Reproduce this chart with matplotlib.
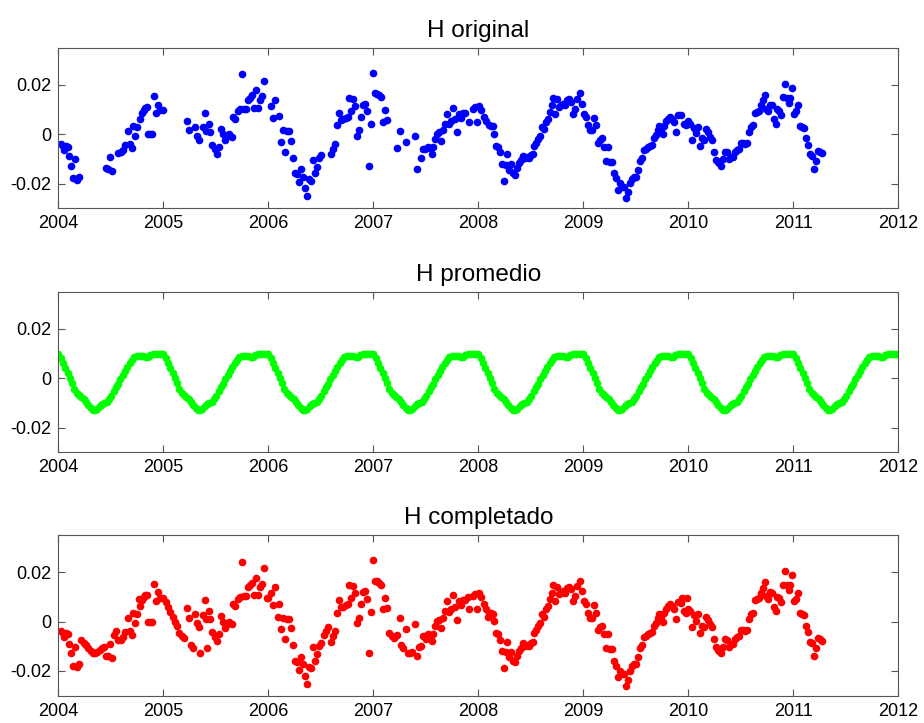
import numpy as np
import matplotlib
matplotlib.use('Agg')
import matplotlib.pyplot as plt

plt.rcParams['font.family'] = ['Liberation Sans', 'DejaVu Sans']

# H original (fecha en anos decimales, valor)
t_orig = [2004.022, 2004.042, 2004.054, 2004.074, 2004.093, 2004.106, 2004.122, 2004.144,
          2004.163, 2004.176, 2004.196,
          2004.452, 2004.471, 2004.490, 2004.510, 2004.567, 2004.600, 2004.619, 2004.638,
          2004.663, 2004.683, 2004.702, 2004.715, 2004.734, 2004.753, 2004.779, 2004.798,
          2004.817, 2004.830, 2004.843, 2004.856, 2004.875, 2004.894, 2004.913, 2004.933,
          2004.952, 2004.971, 2004.997,
          2005.221, 2005.240, 2005.298, 2005.317, 2005.336, 2005.375, 2005.394, 2005.405,
          2005.433, 2005.446, 2005.465, 2005.490, 2005.510, 2005.529, 2005.548, 2005.567,
          2005.587, 2005.606, 2005.625, 2005.651, 2005.663, 2005.683, 2005.708, 2005.728,
          2005.747, 2005.766, 2005.785, 2005.804, 2005.824, 2005.843, 2005.862, 2005.881,
          2005.901, 2005.920, 2005.939, 2005.958,
          2006.025, 2006.044, 2006.063, 2006.104, 2006.120, 2006.139, 2006.158, 2006.177,
          2006.196, 2006.215, 2006.234, 2006.253, 2006.272, 2006.291, 2006.310, 2006.329,
          2006.348, 2006.367, 2006.385, 2006.404, 2006.423, 2006.442, 2006.461, 2006.480,
          2006.506, 2006.594, 2006.613, 2006.632, 2006.651, 2006.676, 2006.695, 2006.714,
          2006.739, 2006.758, 2006.771, 2006.790, 2006.809, 2006.828, 2006.847, 2006.866,
          2006.885, 2006.904, 2006.923, 2006.942, 2006.957, 2006.979, 2006.998, 2007.017,
          2007.036, 2007.055, 2007.074, 2007.093, 2007.112, 2007.131,
          2007.226, 2007.251, 2007.308, 2007.397, 2007.416, 2007.453, 2007.472, 2007.491,
          2007.523, 2007.542, 2007.555, 2007.573, 2007.592, 2007.611, 2007.630, 2007.649,
          2007.662, 2007.680, 2007.706, 2007.718, 2007.744, 2007.763, 2007.782, 2007.801,
          2007.820, 2007.838, 2007.857, 2007.876, 2007.914, 2007.953, 2007.972, 2007.991,
          2008.010, 2008.029, 2008.051, 2008.070, 2008.101, 2008.120, 2008.139, 2008.146,
          2008.165, 2008.184, 2008.203, 2008.222, 2008.241, 2008.259, 2008.278, 2008.297,
          2008.316, 2008.335, 2008.354, 2008.373, 2008.392, 2008.411, 2008.430, 2008.449,
          2008.468, 2008.487, 2008.506, 2008.519, 2008.532, 2008.551, 2008.570, 2008.589,
          2008.608, 2008.627, 2008.646, 2008.665, 2008.684, 2008.703, 2008.715, 2008.734,
          2008.753, 2008.772, 2008.791, 2008.810, 2008.829, 2008.848, 2008.867, 2008.886,
          2008.905, 2008.924, 2008.943, 2008.968, 2008.987, 2009.006, 2009.025, 2009.044,
          2009.063, 2009.082, 2009.101, 2009.120, 2009.139, 2009.158, 2009.177, 2009.196,
          2009.215, 2009.234, 2009.253, 2009.272, 2009.291, 2009.310, 2009.329, 2009.348,
          2009.367, 2009.386, 2009.405, 2009.424, 2009.443, 2009.462, 2009.481, 2009.500,
          2009.519, 2009.538, 2009.557, 2009.576, 2009.601, 2009.620, 2009.639, 2009.658,
          2009.671, 2009.690, 2009.709, 2009.722, 2009.741, 2009.759, 2009.772, 2009.791,
          2009.810, 2009.829, 2009.848, 2009.867, 2009.886, 2009.905, 2009.930, 2009.956,
          2009.975, 2010.000, 2010.019, 2010.032, 2010.051, 2010.070, 2010.089, 2010.108,
          2010.127, 2010.146, 2010.165, 2010.184, 2010.203, 2010.222, 2010.241, 2010.259,
          2010.278, 2010.297, 2010.316, 2010.335, 2010.354, 2010.373, 2010.392, 2010.411,
          2010.430, 2010.449, 2010.468, 2010.487, 2010.506, 2010.525, 2010.544, 2010.563,
          2010.582, 2010.601, 2010.620, 2010.633, 2010.652, 2010.671, 2010.690, 2010.709,
          2010.728, 2010.741, 2010.759, 2010.778, 2010.797, 2010.816, 2010.835, 2010.848,
          2010.867, 2010.886, 2010.905, 2010.924, 2010.943, 2010.956, 2010.968, 2010.987,
          2011.006, 2011.025, 2011.044, 2011.063, 2011.082, 2011.101, 2011.120, 2011.139,
          2011.158, 2011.177, 2011.196, 2011.215, 2011.234, 2011.253, 2011.275]
h_orig = [-0.0040, -0.0047, -0.0064, -0.0047, -0.0052, -0.0089, -0.0127, -0.0178,
          -0.0102, -0.0185, -0.0173,
          -0.0138, -0.0141, -0.0091, -0.0149, -0.0075, -0.0074, -0.0064, -0.0042,
          0.0013, -0.0039, -0.0054, 0.0034, -0.0007, 0.0031, 0.0063, 0.0087,
          0.0099, 0.0106, 0.0109, 0.0000, 0.0000, 0.0000, 0.0154, 0.0085,
          0.0119, 0.0097, 0.0097,
          0.0054, 0.0015, 0.0030, -0.0007, -0.0024, 0.0028, 0.0087, 0.0012,
          0.0043, 0.0009, -0.0044, -0.0062, -0.0079, -0.0051, 0.0023, 0.0000,
          -0.0025, -0.0008, -0.0001, -0.0011, 0.0070, 0.0063, 0.0093, 0.0101,
          0.0242, 0.0103, 0.0103, 0.0140, 0.0146, 0.0157, 0.0106, 0.0178,
          0.0106, 0.0140, 0.0154, 0.0215,
          0.0114, 0.0067, 0.0140, 0.0072, -0.0031, 0.0016, -0.0071, 0.0012,
          0.0012, -0.0027, -0.0095, -0.0158, -0.0162, -0.0195, -0.0142, -0.0173,
          -0.0219, -0.0252, -0.0183, -0.0189, -0.0105, -0.0158, -0.0132, -0.0098,
          -0.0085, -0.0082, -0.0058, -0.0038, 0.0036, 0.0087, 0.0059, 0.0060,
          0.0067, 0.0070, 0.0148, 0.0094, 0.0144, 0.0114, -0.0007, 0.0016,
          0.0070, 0.0119, 0.0123, 0.0093, -0.0128, 0.0040, 0.0248, 0.0166,
          0.0164, 0.0157, 0.0149, 0.0050, 0.0097, 0.0056,
          -0.0055, 0.0013, -0.0031, -0.0008, -0.0141, -0.0098, -0.0060, -0.0058,
          -0.0052, -0.0055, -0.0079, -0.0052, -0.0020, 0.0001, 0.0007, -0.0028,
          0.0015, 0.0043, 0.0083, 0.0040, 0.0052, 0.0107, 0.0060, 0.0007,
          0.0083, 0.0067, 0.0086, 0.0087, 0.0050, 0.0103, 0.0110, 0.0050,
          0.0114, 0.0099, 0.0070, 0.0052, 0.0036, 0.0034, 0.0032, 0.0001,
          -0.0047, -0.0052, -0.0074, -0.0119, -0.0189, -0.0125, -0.0082, -0.0145,
          -0.0122, -0.0158, -0.0165, -0.0138, -0.0118, -0.0106, -0.0087, -0.0098,
          -0.0093, -0.0098, -0.0085, -0.0081, -0.0047, -0.0034, -0.0020, -0.0007,
          0.0030, 0.0020, 0.0050, 0.0063, 0.0090, 0.0117, 0.0146, 0.0083,
          0.0141, 0.0110, 0.0117, 0.0123, 0.0117, 0.0137, 0.0141, 0.0130,
          0.0083, 0.0103, 0.0144, 0.0166, 0.0123, 0.0083, 0.0070, 0.0036,
          0.0016, 0.0016, 0.0066, 0.0036, -0.0034, -0.0024, -0.0017, -0.0051,
          -0.0109, -0.0051, -0.0111, -0.0111, -0.0158, -0.0178, -0.0225, -0.0199,
          -0.0212, -0.0212, -0.0259, -0.0235, -0.0199, -0.0181, -0.0172, -0.0172,
          -0.0145, -0.0109, -0.0095, -0.0064, -0.0058, -0.0051, -0.0047, -0.0044,
          -0.0017, -0.0004, 0.0016, 0.0032, 0.0020, -0.0001, 0.0034, 0.0052,
          0.0063, 0.0070, 0.0063, 0.0050, 0.0009, 0.0079, 0.0076, 0.0043,
          0.0036, 0.0052, 0.0043, -0.0024, 0.0025, 0.0003, 0.0030, -0.0047,
          -0.0017, -0.0024, 0.0020, 0.0007, -0.0011, -0.0024, -0.0071, -0.0105,
          -0.0114, -0.0118, -0.0128, -0.0102, -0.0071, -0.0074, -0.0102, -0.0091,
          -0.0091, -0.0071, -0.0064, -0.0060, -0.0034, -0.0034, -0.0038, -0.0035,
          0.0009, 0.0030, 0.0036, 0.0086, 0.0090, 0.0094, 0.0117, 0.0137,
          0.0160, 0.0103, 0.0093, 0.0119, 0.0117, 0.0060, 0.0043, 0.0101,
          0.0094, 0.0079, 0.0150, 0.0204, 0.0146, 0.0128, 0.0146, 0.0187,
          0.0083, 0.0093, 0.0117, 0.0034, 0.0030, 0.0027, -0.0017, -0.0044,
          -0.0082, -0.0087, -0.0141, -0.0109, -0.0068, -0.0071, -0.0078]

# H promedio: ciclo anual medio, 46 compuestos de 8 dias
h_prom_anual = [0.0097, 0.0080, 0.0060, 0.0040, 0.0020, 0.0000, -0.0020, -0.0045,
                -0.0058, -0.0067, -0.0076, -0.0085, -0.0095, -0.0108, -0.0120, -0.0128,
                -0.0129, -0.0125, -0.0114, -0.0106, -0.0102, -0.0096, -0.0085, -0.0071,
                -0.0053, -0.0037, -0.0022, -0.0004, 0.0014, 0.0031, 0.0045, 0.0062,
                0.0075, 0.0084, 0.0089, 0.0091, 0.0089, 0.0089, 0.0085, 0.0087,
                0.0093, 0.0099, 0.0099, 0.0097, 0.0096, 0.0097]
years = [2004, 2005, 2006, 2007, 2008, 2009, 2010, 2011]
xticks = [2004, 2005, 2006, 2007, 2008, 2009, 2010, 2011, 2012]
yticks = [-0.02, 0, 0.02]
yticklabels = ['-0.02', '0', '0.02']

# serie promedio en la malla de 8 dias
t_prom = []
h_prom = []
for y in years:
    for k, v in enumerate(h_prom_anual):
        t_prom.append(y + k * 8 / 365.0)
        h_prom.append(v)
t_prom = np.array(t_prom)
h_prom = np.array(h_prom)

# completado: original + promedio donde falta el dato
t_o = np.array(t_orig)
h_o = np.array(h_orig)
t_ini = t_o.min() - 0.005
t_end = t_o.max() + 0.005
falta = np.array([np.min(np.abs(t_o - t)) > 0.011 for t in t_prom])
falta &= (t_prom >= t_ini) & (t_prom <= t_end)
t_comp = np.concatenate([t_o, t_prom[falta]])
h_comp = np.concatenate([h_o, h_prom[falta]])

fig = plt.figure(figsize=(9.24, 7.23), dpi=100)
left, width, height = 0.0631, 0.9091, 0.2221
bottoms = [0.7119, 0.3744, 0.0378]
titles = ['H original', 'H promedio', 'H completado']
series = [(t_o, h_o, 'b'), (t_prom, h_prom, '#00ff00'), (t_comp, h_comp, 'r')]

for b, tit, (tx, hy, col) in zip(bottoms, titles, series):
    ax = fig.add_axes([left, b, width, height])
    ax.plot(tx, hy, 'o', color=col, markersize=5.5, markeredgewidth=0)
    ax.set_xlim(2004, 2012)
    ax.set_ylim(-0.03, 0.035)
    ax.set_xticks(xticks)
    ax.set_xticklabels([str(x) for x in xticks])
    ax.set_yticks(yticks)
    ax.set_yticklabels(yticklabels)
    ax.tick_params(direction='in', top=True, right=True, labelsize=13,
                   length=5, color='#555555', pad=5)
    for s in ax.spines.values():
        s.set_color('#555555')
    ax.set_title(tit, fontsize=17.5, pad=8)

fig.savefig('out.png', dpi=100)
